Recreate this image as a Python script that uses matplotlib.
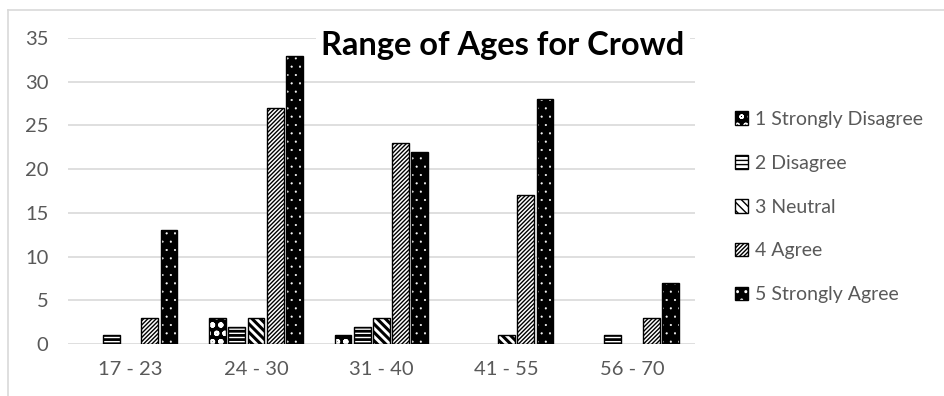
import matplotlib
matplotlib.use("Agg")
import matplotlib.pyplot as plt
import numpy as np
from matplotlib.patches import Patch
from matplotlib.legend_handler import HandlerTuple
from matplotlib.lines import Line2D

categories = ["17 - 23", "24 - 30", "31 - 40", "41 - 55", "56 - 70"]
series_names = ["1 Strongly Disagree", "2 Disagree", "3 Neutral", "4 Agree", "5 Strongly Agree"]
strongly_disagree = [0, 3, 1, 0, 0]
disagree = [1, 2, 2, 0, 1]
neutral = [0, 3, 3, 1, 0]
agree = [3, 27, 23, 17, 3]
strongly_agree = [13, 33, 22, 28, 7]
yticks = [0, 5, 10, 15, 20, 25, 30, 35]
title = "Range of Ages for Crowd"

series = [strongly_disagree, disagree, neutral, agree, strongly_agree]
# (facecolor, hatchcolor, hatch, hatch linewidth)
styles = [
    ("black", "white", "oo", 1.5),
    ("white", "black", "----", 2.0),
    ("white", "black", "\\\\\\\\", 2.2),
    ("white", "black", "////////", 1.0),
    ("black", "white", "..", 0.3),
]

plt.rcParams["font.family"] = ["Lato", "DejaVu Sans"]

fig = plt.figure(figsize=(9.45, 3.96), dpi=100)
ax = fig.add_axes([0.072, 0.1313, 0.663, 0.7727])

x = np.arange(len(categories))
step = 0.153
width = 0.135
handles = []
for i, (vals, (fc, hc, h, hlw)) in enumerate(zip(series, styles)):
    pos = x + (i - 2) * step
    with plt.rc_context({"hatch.linewidth": hlw}):
        bars = ax.bar(pos, vals, width, facecolor=fc, edgecolor=hc, hatch=h, linewidth=0, zorder=3)
        p1 = Patch(facecolor=fc, edgecolor=hc, hatch=h, linewidth=0)
    for b in list(bars) + [p1]:
        if hasattr(b, "set_hatch_linewidth"):
            b.set_hatch_linewidth(hlw)
    outline_lw = [1.0 if v > 0 else 0.0 for v in vals]
    ax.bar(pos, vals, width, facecolor="none", edgecolor="black", linewidth=outline_lw, zorder=4)
    p2 = Patch(facecolor="none", edgecolor="black", linewidth=1.0)
    handles.append((p1, p2))

ax.set_xlim(-0.5, 4.5)
ax.set_ylim(0, 35)
ax.set_yticks(yticks)
ax.set_xticks(x)
ax.set_xticklabels(categories)
for s in ax.spines.values():
    s.set_visible(False)
ax.yaxis.grid(True, color="#d9d9d9", linewidth=1.2, zorder=0)
ax.set_axisbelow(True)
ax.tick_params(axis="both", length=0, labelsize=14.5, colors="#595959")
ax.tick_params(axis="y", pad=14)
ax.tick_params(axis="x", pad=12)

fig.text(0.532, 0.886, title, fontsize=23.5, fontweight="bold", ha="center", va="center",
         color="black", bbox=dict(facecolor="white", edgecolor="none", pad=4), zorder=10)

leg = fig.legend(handles, series_names, handler_map={tuple: HandlerTuple(ndivide=1)},
                 loc="center left", bbox_to_anchor=(0.759, 0.477), frameon=False,
                 fontsize=14, labelcolor="#595959", handlelength=0.7, handleheight=0.7,
                 handletextpad=0.35, labelspacing=1.38)

# outer chart border (left and top)
fig.add_artist(Line2D([8/945, 8/945], [0, 1 - 10/396], transform=fig.transFigure,
                      color="#d9d9d9", linewidth=1.2))
fig.add_artist(Line2D([8/945, 1], [1 - 10/396, 1 - 10/396], transform=fig.transFigure,
                      color="#d9d9d9", linewidth=1.2))

fig.savefig("out.png", dpi=100)
